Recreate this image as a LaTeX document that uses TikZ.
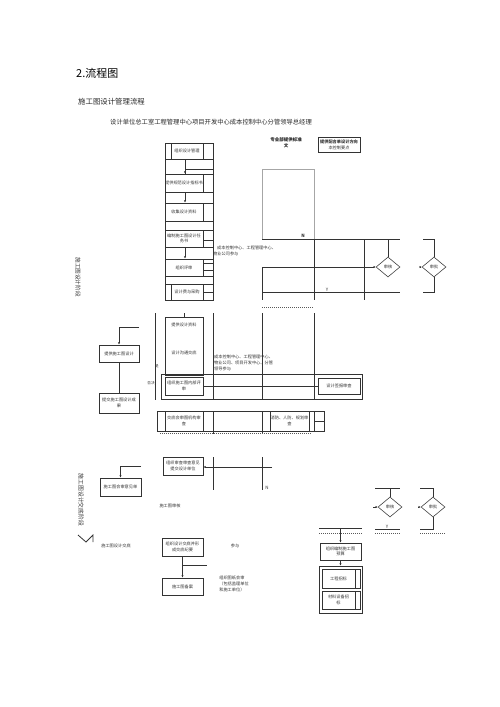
\documentclass[tikz,border=0pt]{standalone}
\usepackage{fontspec}
\setmainfont{Noto Sans CJK SC}
\usetikzlibrary{arrows.meta,shapes.geometric}
\begin{document}
\begin{tikzpicture}[x=1pt,y=-1pt,
 ln/.style={draw=black!80,line width=0.8pt},
 lt/.style={draw=black!35,line width=0.6pt},
 box/.style={draw=black!80,line width=0.8pt,inner sep=0pt,align=center,font=\fontsize{4.2}{5.4}\selectfont,text=black!80},
 lab/.style={inner sep=0pt,align=left,font=\fontsize{4.2}{6}\selectfont,text=black!80},
 dia/.style={diamond,draw=black!75,line width=0.6pt,inner sep=0pt,minimum width=24pt,minimum height=20pt,font=\fontsize{4.2}{5}\selectfont,text=black!80},
 arr/.style={ln,-{Latex[length=2.2pt,width=2.2pt]}},
 dotl/.style={draw=black!65,line width=0.6pt,dash pattern=on 1pt off 1pt}]
\useasboundingbox (0,0) rectangle (500,707);
% titles
\node[anchor=west,inner sep=0pt,font=\fontsize{11}{13}\selectfont] (t1) at (76,73) {2.流程图};
\node[anchor=west,inner sep=0pt,font=\fontsize{7.4}{8}\selectfont,text=black!85] (t2) at (78,102) {施工图设计管理流程};
\node[anchor=west,inner sep=0pt,font=\fontsize{6.3}{7}\selectfont,text=black!85] (t3) at (110,122) {设计单位总工室工程管理中心项目开发中心成本控制中心分管领导总经理};
% rotated phase labels
\node[rotate=-90,inner sep=0pt,font=\fontsize{5.6}{6}\selectfont,text=black!80] (ph1) at (78,277) {施工图设计阶段};
\node[rotate=-90,inner sep=0pt,font=\fontsize{5.8}{6}\selectfont,text=black!80] (ph2) at (81,500) {施工图设计交底阶段};

% ===== top left column =====
\draw[ln] (165,143) rectangle (213,300);
\node[box,minimum width=32pt,minimum height=16pt] (b1) at (187,151) {组织设计管理};
\draw[ln] (165,159) -- (213,159);
\draw[ln] (185,169) -- (213,169);
\draw[ln] (165,174) -- (213,174);
\draw[ln] (185,159) -- (185,174);
\node[box,minimum width=38pt,minimum height=18pt] (b2) at (184,183) {提供规范设计指标书};
\draw[arr] (185,166) -- (b2.north -| 185,0);
\draw[ln] (165,192) -- (213,192);
\draw[ln] (165,203) -- (213,203);
\node[box,minimum width=38pt,minimum height=18pt] (b3) at (184,212) {收集设计资料};
\draw[arr] (b2.south -| 185,0) -- (b3.north -| 185,0);
\draw[ln] (165,221) -- (213,221);
\draw[ln] (165,230) -- (213,230);
\node[box,minimum width=38pt,minimum height=17pt] (b4) at (184,238.5) {编制施工图设计任\\务书};
\draw[ln] (203,240) -- (213,240);
\draw[ln] (165,247) -- (213,247);
\draw[ln] (165,259) -- (213,259);
\node[box,minimum width=38pt,minimum height=17pt] (b5) at (184,267.5) {组织评审};
\draw[arr] (b4.south -| 185,0) -- (b5.north -| 185,0);
\draw[ln] (203,263) -- (213,263);
\draw[ln] (203,270) -- (213,270);
\draw[ln] (165,276) -- (213,276);
\draw[ln] (165,284) -- (213,284);
\node[box,minimum width=32pt,minimum height=16pt] (b6) at (187,292) {设计费与采购};
\draw[ln] (203,292) -- (213,292);

% header items right
\node[inner sep=0pt,align=center,font=\bfseries\fontsize{4.5}{6}\selectfont,text=black!85] (h1) at (286,143) {专业部提供标准\\文};
\node[box,line width=1pt,minimum width=42pt,minimum height=15pt] (h2) at (339,145) {\textbf{提供配合单设计方向}\\本控制要点};

% gray rectangle
\draw[lt] (262,169) rectangle (314,239);
\node[lab,anchor=west] (n1) at (213,251) {\hspace*{4pt}成本控制中心、工程管理中心、\\物业公司参与};

% top decision lines
\draw[ln] (262,239) -- (400,239);
\node[lab,font=\bfseries\fontsize{4.5}{5}\selectfont] (lN1) at (303,236) {N};
\draw[ln] (314,239) -- (314,300);
\draw[ln] (364,239) -- (364,300);
\draw[ln] (262,267) -- (262,300);
\node[dia] (d1) at (388,267) {审核};
\node[dia] (d2) at (434,267) {审批};
\draw[arr] (262,267) -- (d1.west);
\draw[ln] (388,239) -- (d1.north);
\draw[ln] (423,239) -- (434,239) -- (d2.north);
\draw[ln] (d2.south) -- (434,292) -- (423,292);
\coordinate (c2) at (420,267);
\draw[arr] (c2) -- (d2.west);
\draw[ln] (262,292) -- (400,292);
\node[lab,font=\fontsize{4.5}{5}\selectfont] (lY1) at (327,290) {Y};
\draw[dotl] (262,307) -- (314,307);

% ===== middle section =====
\draw[ln] (155,313) -- (155,400);
\draw[ln] (213,313) -- (213,400);
\draw[ln] (262,313) -- (262,400);
\draw[ln] (314,313) -- (314,400);
\node[box,minimum width=38pt,minimum height=58pt] (b7) at (184,346) {};
\node[lab] (b7a) at (184,325) {提供设计资料};
\node[lab] (b7b) at (184,353) {设计沟通交底};
\draw[ln] (184,313) -- (b7.north);
\draw[ln] (161,374) rectangle (362,399);
\node[box,minimum width=38pt,minimum height=18pt] (b8) at (184,386) {组织施工图内部评\\审};
\node[box,minimum width=42pt,minimum height=16pt] (b9) at (339,386) {设计签报审查};
\draw[ln] (b8.east) -- (b9.west);
\node[lab,anchor=west] (n2) at (214,363) {成本控制中心、工程管理中心、\\物业公司、项目开发中心、分管\\领导参与};
\node[lab,font=\fontsize{3.6}{4}\selectfont] (lm1) at (157,366) {是};
\node[lab,font=\fontsize{3.6}{4}\selectfont] (lm2) at (151,383) {否决};

% left middle
\coordinate (c10) at (139,327);
\node[box,minimum width=40pt,minimum height=17pt] (b10) at (119,353.5) {提供施工图设计};
\draw[arr] (c10) -- (119,327) -- (b10.north);
\node[box,minimum width=40pt,minimum height=20pt] (b11) at (119,403) {提交施工图设计成\\果};
\draw[ln] (b10.south) -- (b11.north);

% lower row
\draw[ln] (157,411) rectangle (324,431);
\node[box,minimum width=38pt,minimum height=20pt] (b12) at (184,421) {交底会审图机构审\\查};
\draw[ln] (213,411) -- (213,434);
\draw[ln] (262,411) -- (262,434);
\node[box,minimum width=39pt,minimum height=20pt] (b13) at (289.5,421) {消防、人防、规划审\\查};
\draw[ln] (314,411) -- (314,431);
\draw[ln] (314,421) -- (324,421);
\draw[dotl] (160,433) -- (312,433);

% ===== lower section =====
\node[box,minimum width=40pt,minimum height=18pt] (b14) at (183,466) {组织审查审查意见\\提交设计单位};
\coordinate (c14) at (272,467);
\draw[arr] (c14) -- (b14.east |- c14);
\draw[ln] (213,457) -- (213,490);
\draw[ln] (262,457) -- (262,490);
\node[lab,font=\fontsize{4.5}{5}\selectfont] (lN2) at (267,488) {N};
\node[box,minimum width=41pt,minimum height=18pt] (b15) at (120.5,487) {施工图会审意见单};
\coordinate (c15) at (141,466);
\draw[arr] (c15) -- (120.5,466) -- (b15.north);
\node[lab] (l1) at (170,506) {施工图审核};
\draw[ln] (78,535) -- (86,542) -- (93,535) -- (93,542);
\node[lab] (l2) at (116,546) {施工图设计交底};
\node[box,minimum width=41pt,minimum height=18pt] (b16) at (182.5,547) {组织设计交底并形\\成交底纪要};
\node[box,minimum width=41pt,minimum height=17pt] (b17) at (182.5,586.5) {施工图备案};
\draw[arr] (b16.south) -- (b17.north);
\draw[ln] (182.5,565) -- (207,565);
\node[lab] (l3) at (235,546) {参与};
\node[lab] (l4) at (234,584) {组织图纸会审\\（包括监理单位\\和施工单位）};

% right lower
\draw[ln] (319,528) -- (362,528);
\draw[dotl] (319,533) -- (362,533);
\node[box,minimum width=41pt,minimum height=17pt] (b18) at (340.5,551.5) {组织编制施工图\\预算};
\draw[arr] (340.5,528) -- (b18.north);
\node[box,minimum width=43pt,minimum height=47pt] (b19) at (340.5,589.5) {};
\draw[arr] (b18.south) -- (b19.north);
\node[box,minimum width=38pt,minimum height=19pt] (b20) at (341,578.5) {工程招标\hspace*{5pt}};
\draw[ln] (355,569) -- (355,588);
\node[box,minimum width=38pt,minimum height=18pt] (b21) at (341,600) {材料设备招\hspace*{5pt}\\标\hspace*{5pt}};
\draw[ln] (355,591) -- (355,609);

% lower diamonds
\node[dia] (d3) at (390,507) {审核};
\node[dia] (d4) at (433,507) {审批};
\draw[ln] (375,488) -- (400,488);
\draw[ln] (390,488) -- (d3.north);
\coordinate (c3) at (373,507);
\draw[arr] (c3) -- (d3.west);
\draw[ln] (375,529) -- (400,529);
\node[lab,font=\fontsize{4.5}{5}\selectfont] (lY2) at (387,527) {Y};
\draw[dotl] (375,533) -- (400,533);
\draw[ln] (420,488) -- (433,488) -- (d4.north);
\draw[ln] (d4.south) -- (433,529) -- (420,529);
\coordinate (c4) at (418,507);
\draw[arr] (c4) -- (d4.west);
\draw[dotl] (420,533) -- (445,533);
\end{tikzpicture}
\end{document}
